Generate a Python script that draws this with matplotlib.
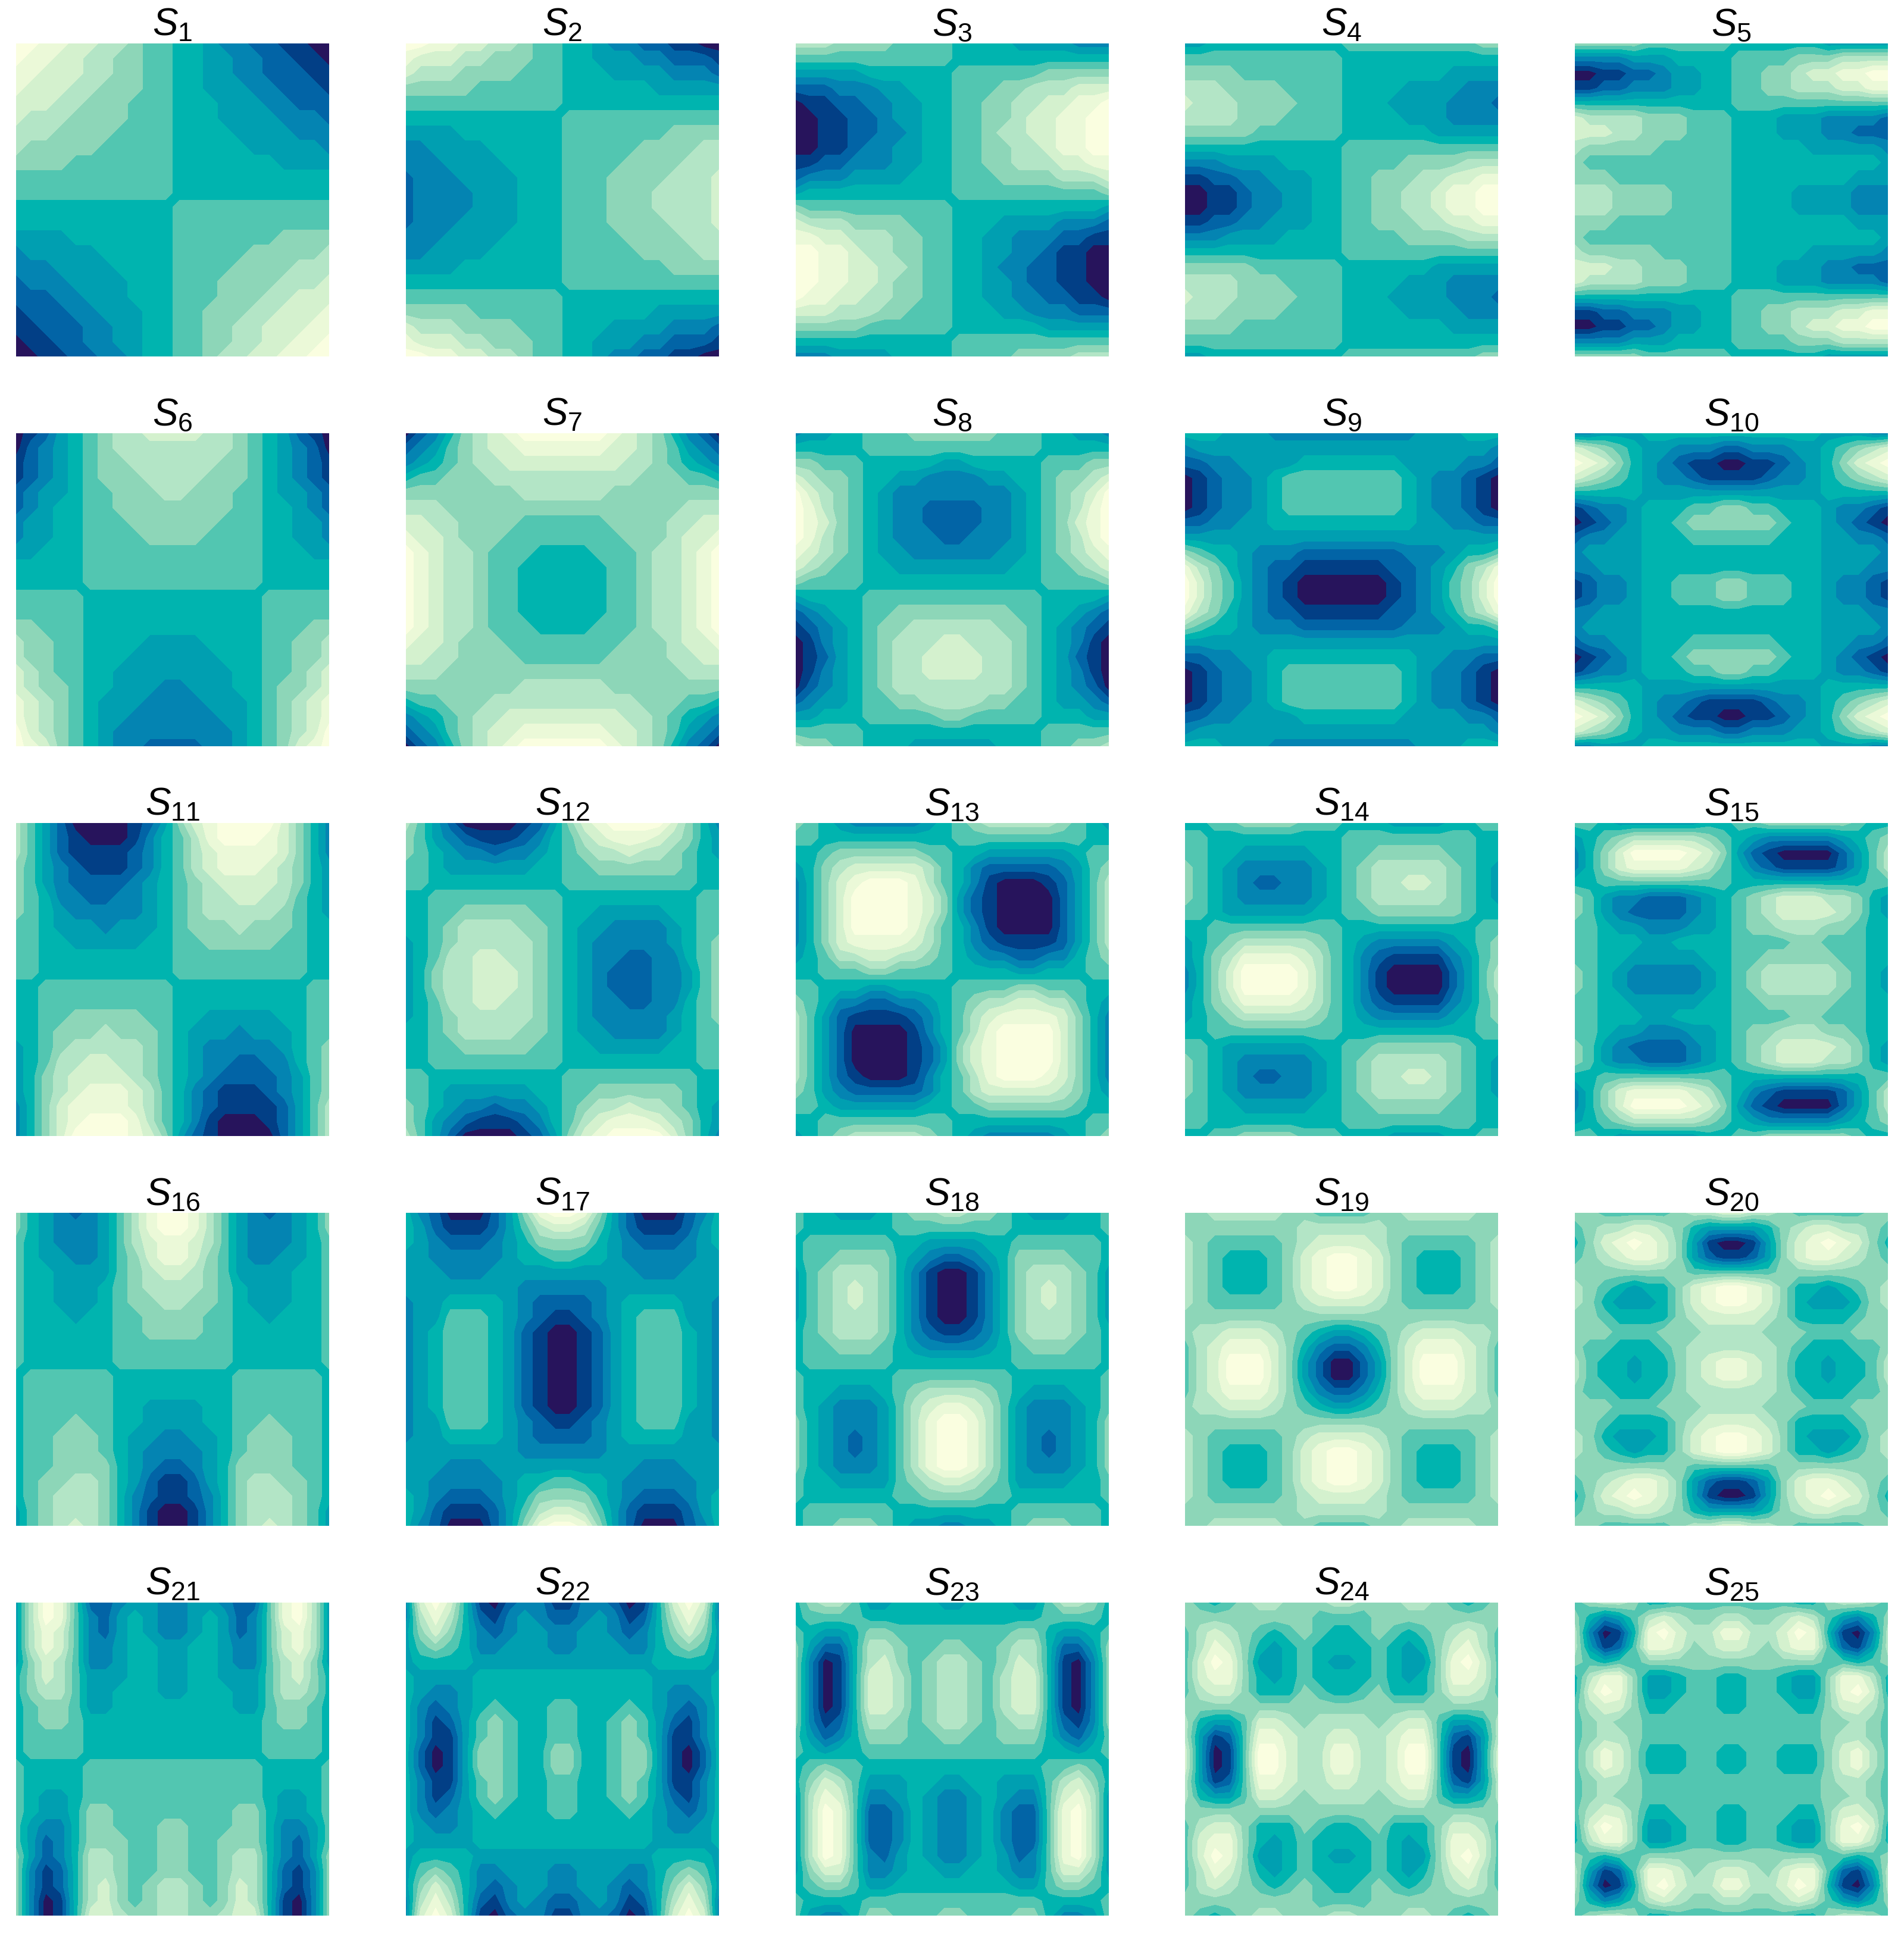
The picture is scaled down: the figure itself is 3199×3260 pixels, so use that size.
import numpy as np
import matplotlib
matplotlib.use('Agg')
import matplotlib.pyplot as plt

plt.rcParams['mathtext.fontset'] = 'custom'
plt.rcParams['mathtext.rm'] = 'Liberation Sans'
plt.rcParams['mathtext.it'] = 'Liberation Sans:italic'

palette = ['#27145c', '#023f86', '#0264a6', '#0484b2', '#009fb1', '#00b4af',
           '#52c6b1', '#8dd6b8', '#b3e5c6', '#d4f1ce', '#ebf9d8', '#fafee0']

s1 = '''bbaa998876655433221100
baa9988776655443322110
aa99988776655443322211
a999887776655444332221
9998877766655544433222
9888777766655544443332
8887777666655554444333
8777776666655555444443
7777666666655555554444
6666666666655555555555
6666666666655555555555
5555555555566666666666
5555555555566666666666
4444555555566666667777
3444445555566666777778
3334444555566667777888
2333444455566677778889
2223344455566677788999
122233444556677788999a
11222334455667788999aa
0112233445566778899aab
001122334556678899aabb'''.split()
s2 = '''bbaa998876655433221100
a999887776655444332221
9888777766655544443332
7777766666655555544444
6666666666655555555555
5555555555566666666666
4444555555566666667777
3344445555566666777788
3334444555566667777888
2333444455566677778889
2333344455566677788889
2333344455566677788889
2333444455566677778889
3334444555566667777888
3344445555566666777788
4444555555566666667777
5555555555566666666666
6666666666655555555555
7777766666655555544444
9888777766655544443332
a999887776655444332221
bbaa998876655433221100'''.split()
s3 = '''8887777666655554444333
6666666666655555555555
4444455555566666677777
2223334455566677888999
0112233445566778899aab
001122344556677899aabb
001122334556678899aabb
001123344556677889aabb
11223334455667788899aa
2333444455566677778889
4555555555566666666667
7666666666655555555554
9888777766655544443332
aa99888776655443332211
bbaa988776655443321100
bbaa998876655433221100
bbaa998776655443221100
baa9988776655443322110
9998887766655544333222
7777766666655555544444
5555555555566666666666
3334444555566667777888'''.split()
s4 = '''4455555555566666666677
6666666666655555555555
7777666666655555554444
8887777666655554444333
9888777766655544443332
8888777666655554443333
7777766666655555544444
5555555555566666666666
3334444555566667777888
11223344455667778899aa
001123344556677889aabb
001123344556677889aabb
11223344455667778899aa
3334444555566667777888
5555555555566666666666
7777766666655555544444
8888777666655554443333
9888777766655544443332
8887777666655554444333
7777666666655555554444
6666666666655555555555
4455555555566666666677'''.split()
s5 = '''7777766666655555544444
3333444555566667778888
001122344556677899aabb
11223334455667788899aa
5555555555566666666666
9888877766655544433332
9998877766655544433222
8777776666655555444443
7666666666655555555554
7776666666655555555444
8887777666655554444333
8887777666655554444333
7776666666655555555444
7666666666655555555554
8777776666655555444443
9998877766655544433222
9888877766655544433332
5555555555566666666666
11223334455667788899aa
001122344556677899aabb
3333444555566667778888
7777766666655555544444'''.split()
s6 = '''0124567889999887654210
0234567888888887654320
1234567788888877654321
1234567778888777654321
2344566777887776654432
2345566777777776655432
3445566677777766655443
3445566667777666655443
4455566666666666655544
5555566666666666655555
5555566666666666655555
6666655555555555566666
6666655555555555566666
7766655555555555566677
8776655554444555566778
8776655544444455566778
9876655444444445566789
9877655444334445567789
a98765444333344456789a
a98765443333334456789a
b98765433333333456789b
ba976543322223345679ab'''.split()
s7 = '''0235789abbbbbba9875320
23467899aaaaaa99876432
3456788999999998876543
5667778888888888777665
7777777788888877777777
8887777777777777777888
9988777766666677778899
a99877766666666777899a
ba988766655556667889ab
ba988766555555667889ab
ba988766555555667889ab
ba988766555555667889ab
ba988766555555667889ab
ba988766655556667889ab
a99877766666666777899a
9988777766666677778899
8887777777777777777888
7777777788888877777777
5667778888888888777665
3456788999999998876543
23467899aaaaaa99876432
0235789abbbbbba9875320'''.split()
s8 = '''3445566677777766655443
5555566666666666655555
7766655555445555566677
9877655443333445567789
b98765433333333456789b
ba876543322223345678ab
ba976543322223345679ab
ba876543332233345678ab
a98765443333334456789a
9876655444444445566789
7666655555555555566667
4555566666666666655554
2345566777777776655432
1234567788888877654321
0134567888998887654310
0124567889999887654210
0134567889999887654310
0234567888888887654320
2344566778888776654432
4455566666776666655544
6666655555555555566666
8776655544444455566778'''.split()
s9 = '''5554443333333333444555
3444444444444444444443
2233444455555554444332
0123345666666665433210
0123345666666665433210
0123345666666665433210
2233445555555555443322
4444444444444444444444
7655433322222223334556
a87543221111112234578a
b97643210000001234679b
b97643210000001234679b
a87543221111112234578a
7655433322222223334556
4444444444444444444444
2233445555555555443322
0123345666666665433210
0123345666666665433210
0123345666666665433210
2233444455555554444332
3444444444444444444443
5554443333333333444555'''.split()
s10 = '''3344455555555555544433
9876544333223334456789
ba975432110011234579ab
9876543321111233456789
5555544444444444455555
1233455566776655543321
0123455677777765543210
2334455566666655544332
3444455555555555544443
3344455555555555544433
1233455666776665543321
1233455666776665543321
3344455555555555544433
3444455555555555544443
2334455566666655544332
0123455677777765543210
1233455566776655543321
5555544444444444455555
9876543321111233456789
ba975432110011234579ab
9876544333223334456789
3344455555555555544433'''.split()
s11 = '''8642000012479abbbb9753
8642100013568abbba9753
86421111235689aaaa9753
76432111235689aaa98754
7643222234567899998754
7653322334567889988654
7654333334567888887654
6654443444567778777655
6655444445566777776655
6655555555566666666655
6655555555566666666655
5566666666655555555566
5566666666655555555566
5566777776655444445566
5567778777654443444566
4567888887654333334567
4568899887654332233567
4578999987654322223467
45789aaa98653211123467
3579aaaa98653211112468
3579abbba8653100012468
3579bbbba9742100002468'''.split()
s12 = '''8642000012479abbbb9753
76432111235689aaa98754
7654332334567889887654
6654444445566777777655
6655555555566666666655
5566666666655555555566
5566777776655444445566
5567888877654433334566
4567888887654333334567
4568899887654332233567
4578899987654322233467
4578899987654322233467
4568899887654332233567
4567888887654333334567
5567888877654433334566
5566777776655444445566
5566666666655555555566
6655555555566666666655
6654444445566777777655
7654332334567889887654
76432111235689aaa98754
8642000012479abbbb9753'''.split()
s13 = '''7654333334567888887654
6655555555566666666655
5567777776655444444566
4578999998653222223467
3579abbba8653100012468
3579bbbba9742100002468
3579bbbba9742100002468
3579bbbba8653100002468
3579aaaa98653211112468
4568899887654332233567
5566677666655554455566
6655544555566667766655
7653322334567889988654
86421111235689aaaa9753
8642000013568abbbb9753
8642000012479abbbb9753
8642000012479abbbb9753
8642100013568abbba9753
7643222223568999998754
6654444445566777777655
5566666666655555555566
4567888887654333334567'''.split()
s14 = '''5566777766655544445566
6655555555566666666655
6655444445566777776655
7654333334567888887654
7654322334567889987654
7654333334567888887654
6654444445566777777655
5566666666655555555566
4567888887654333334567
4578aaaa98653211113467
3579bbbba8653100002468
3579bbbba8653100002468
4578aaaa98653211113467
4567888887654333334567
5566666666655555555566
6654444445566777777655
7654333334567888887654
7654322334567889987654
7654333334567888887654
6655444445566777776655
6655555555566666666655
5566777766655544445566'''.split()
s15 = '''6654444445566777777655
4567888887654333334567
3579bbbba9742100002468
3579aaaa98653211112468
5566666666655555555566
7643322234567899988754
7643222234567899998754
6654433344567788877655
6655544555566667766655
6655444445566777776655
7654333334567888887654
7654333334567888887654
6655444445566777776655
6655544555566667766655
6654433344567788877655
7643222234567899998754
7643322234567899988754
5566666666655555555566
3579aaaa98653211112468
3579bbbba9742100002468
4567888887654333334567
6654444445566777777655'''.split()
s16 = '''754323468abba864323457
754333468abba864333457
6543334689aa9864333456
6544334679aa9764334456
6554444678998764444556
6554445678888765444556
6554445677887765444556
6555455667777665545556
6555555667777665555556
6555555666666665555556
6555555666666665555556
5666666555555556666665
5666666555555556666665
5666666554444556666665
5666766554444556676665
5667776544334456777665
5667776543333456777665
5667777543223457777665
5677887542112457887765
5678887532112357888765
4678887531001357888764
4678987531001357898764'''.split()
s17 = '''532000247abba742000235
5421112468998642111245
5432223457777543222345
4433333455665543333344
4443334444444444333444
4444444433333344444444
3445555432222345555443
3446665432112345666443
3456665421001245666543
3456665421001245666543
3456665421001245666543
3456665421001245666543
3456665421001245666543
3456665421001245666543
3446665432112345666443
3445555432222345555443
4444444433333344444444
4443334444444444333444
4433333455665543333344
5432223457777543222345
5421112468998642111245
532000247abba742000235'''.split()
s18 = '''6554445677887765444556
6555555666666665555556
5666666554444556666665
5667777543223457777665
4678887531001357888764
4678987531001357898764
4678987531001357898764
4678887531001357888764
5678887532112357888765
5667776543333456777665
5666666555555556666665
6555555666666665555556
6554445678888765444556
6543334689aa9864333456
754333468abba864333457
754323468abba864323457
754323468abba864323457
754333468abba864333457
6554444678998764444556
6555555667777665555556
5666666555555556666665
5667776544334456777665'''.split()
s19 = '''7788888776666778888877
7777777788888877777777
8766666789999876666678
876555679abba976555678
876555679abba976555678
876555679abba976555678
8766666789999876666678
7777777777777777777777
7889998765445678999887
689aaa9753223579aaa986
689bbb9742002479bbb986
689bbb9742002479bbb986
689aaa9753223579aaa986
7889998765445678999887
7777777777777777777777
8766666789999876666678
876555679abba976555678
876555679abba976555678
876555679abba976555678
8766666789999876666678
7777777788888877777777
7788888776666778888877'''.split()
s20 = '''7766666788998876666677
6788998754444578998876
579aba9741001479aba975
6789aa9742112479aa9876
7777777766666677777777
876545579abba975545678
875444579abba975444578
7765555789999875555677
7776667778888777666777
7665556788888876555667
8655455789aa9875545568
8655455789aa9875545568
7665556788888876555667
7776667778888777666777
7765555789999875555677
875444579abba975444578
876545579abba975545678
7777777766666677777777
6789aa9742112479aa9876
579aba9741001479aba975
6788998754444578998876
7766666788998876666677'''.split()
s21 = '''48ba62234433443226ab84
48ba63245433454236ab84
48a9632454334542369a84
48a9633455445543369a84
4798633455445543368974
5798644455445544468975
5788644555445554468875
5677644555555554467765
5677655555555555567765
5666655555555555566665
5666655555555555566665
6555566666666666655556
6555566666666666655556
6544566666666666654456
6544577666666667754456
6433577666776667753346
6423577766776677753246
7423588766776678853247
7312588766776678852137
7312589767887679852137
7301589767887679851037
7301599877887789951037'''.split()
s22 = '''39b9510233113320159b93
38a8521343223431258a83
4797532344334432357974
4676533444334443356764
4555544444444444455554
5444455555555555544445
5433455555555555543345
5323456555665556543235
5312467655665567642135
5311467655665567641135
5201477655775567741025
5201477655775567741025
5311467655665567641135
5312467655665567642135
5323456555665556543235
5433455555555555543345
5444455555555555544445
4555544444444444455554
4676533444334443356764
4797532344334432357974
38a8521343223431258a83
39b9510233113320159b93'''.split()
s23 = '''5788644555445554468875
5666655555555555566665
6544577666666667754456
7422588766776678852247
7301589767887679851037
7301599867887689951037
7301599867887689951037
7301599867887689951037
7312588767887678852137
6423577766776677753246
6545566666666666655456
5676655555555555566765
5798644455445544468975
48a9633454334543369a84
48ba62235433453226ab84
48ba62235433453226ab84
48ba62235433453226ab84
48ba63245433454236ab84
4799633455445543369974
5677644555555554467765
6555566666666666655556
6433577666776667753346'''.split()
s24 = '''7656788777887778876567
7777777776666777777777
6898765676556765678986
68a9754565555654579a86
69ba74456544565447ab96
69aa75456555565457aa96
6899755576556755579986
7777777777777777777777
8544699878888789964458
84126aa98899889aa62148
94016bb988aa889bb61049
94016bb988aa889bb61049
84126aa98899889aa62148
8544699878888789964458
7777777777777777777777
6899755576556755579986
69aa75456555565457aa96
69ba74456544565447ab96
68a9754565555654579a86
6898765676556765678986
7777777776666777777777
7656788777887778876567'''.split()
s25 = '''6788755666666665578876
7534689877887789864357
83015ab988aa889ba51038
84126aa97899879aa62148
7656677777777777766567
58aa74456655665447aa85
59ba74456655665447ab95
6899755666556665579986
6787766666666666677876
6788766666666666678876
68a9755566556655579a86
68a9755566556655579a86
6788766666666666678876
6787766666666666677876
6899755666556665579986
59ba74456655665447ab95
58aa74456655665447aa85
7656677777777777766567
84126aa97899879aa62148
83015ab988aa889ba51038
7534689877887789864357
6788755666666665578876'''.split()

panels = [s1, s2, s3, s4, s5, s6, s7, s8, s9, s10, s11, s12, s13,
          s14, s15, s16, s17, s18, s19, s20, s21, s22, s23, s24, s25]

W, H = 3199, 3260
SIZE = 526
xs = np.linspace(0, 1, 22)
ys = np.linspace(1, 0, 22)
bands = np.arange(-0.5, 12.5)

bad = [(k + 1, i, r) for k, rows in enumerate(panels) for i, r in enumerate(rows) if len(r) != 22]
bad += [(k + 1, len(rows)) for k, rows in enumerate(panels) if len(rows) != 22]
if bad:
    raise ValueError(str(bad))

fig = plt.figure(figsize=(W / 100, H / 100), dpi=100)
for k, rows in enumerate(panels):
    grid = np.array([[int(c, 16) for c in r] for r in rows])
    col, row = k % 5, k // 5
    left = 27 + 654.75 * col
    top = 73 + 655 * row
    ax = fig.add_axes([left / W, 1 - (top + SIZE) / H, SIZE / W, SIZE / H])
    ax.contourf(xs, ys, grid, levels=bands, colors=palette)
    ax.set_xlim(0, 1)
    ax.set_ylim(0, 1)
    ax.axis('off')
    ax.set_title(r'$\mathit{S}_{%d}$' % (k + 1), fontsize=46, pad=9.5)

fig.savefig('out.png', dpi=100)
